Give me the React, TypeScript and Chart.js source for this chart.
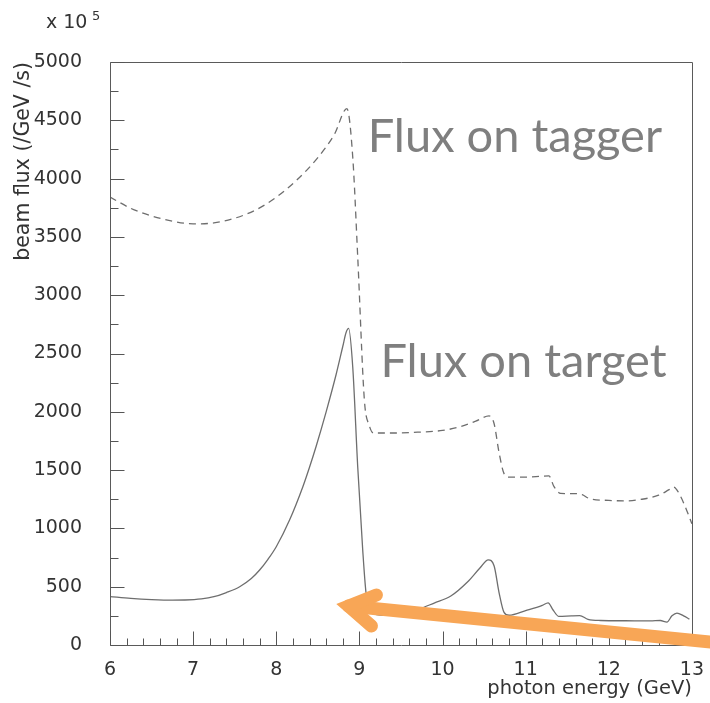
import React, { useEffect, useRef } from "react";
import { Chart, registerables } from "chart.js";
Chart.register(...registerables);

// ---- data (photon energy in GeV, flux in units of 10^5 /GeV /s) ----
const taggerEnergy = [6.0, 6.25, 6.5, 6.75, 7.0, 7.25, 7.5, 7.75, 8.0, 8.25, 8.5, 8.7, 8.85, 8.92, 8.98, 9.06, 9.12, 9.17, 9.4, 9.7, 10.0, 10.2, 10.4, 10.56, 10.62, 10.68, 10.74, 10.8, 11.0, 11.2, 11.28, 11.34, 11.42, 11.6, 11.68, 11.76, 12.0, 12.2, 12.4, 12.6, 12.72, 12.78, 12.86, 12.94, 13.0];
const taggerFlux = [3842, 3745, 3680, 3635, 3612, 3620, 3660, 3730, 3840, 3990, 4180, 4380, 4600, 4185, 3328, 2101, 1880, 1818, 1818, 1825, 1840, 1870, 1920, 1965, 1900, 1650, 1470, 1440, 1440, 1448, 1450, 1360, 1300, 1298, 1290, 1258, 1240, 1236, 1250, 1285, 1330, 1355, 1280, 1150, 1040];

const targetEnergy = [6.0, 6.25, 6.5, 6.75, 6.9, 7.1, 7.25, 7.4, 7.56, 7.7, 7.8, 7.9, 8.0, 8.16, 8.32, 8.4, 8.48, 8.6, 8.72, 8.8, 8.84, 8.87, 8.92, 8.98, 9.04, 9.08, 9.14, 9.3, 9.5, 9.7, 9.9, 10.1, 10.3, 10.45, 10.55, 10.62, 10.68, 10.74, 10.8, 11.0, 11.2, 11.27, 11.33, 11.4, 11.55, 11.65, 11.75, 11.9, 12.2, 12.5, 12.62, 12.7, 12.76, 12.82, 12.9, 12.97];
const targetFlux = [415, 400, 390, 385, 386, 395, 414, 450, 500, 570, 643, 735, 843, 1072, 1358, 1525, 1705, 2000, 2320, 2560, 2680, 2715, 2384, 1527, 815, 446, 275, 255, 275, 305, 360, 420, 540, 660, 730, 680, 450, 280, 255, 295, 340, 362, 300, 245, 250, 252, 220, 210, 208, 207, 210, 197, 250, 274, 250, 222];

const xMin = 6, xMax = 13, xMajorStep = 1, xMinorStep = 0.2;
const yMin = 0, yMax = 5000, yMajorStep = 500, yMinorStep = 250;

const xTitle = "photon energy (GeV)";
const yTitle = "beam flux (/GeV /s)";
const yExpBase = "x 10";
const yExpPower = "5";
const labelTagger = "Flux on tagger";
const labelTarget = "Flux on target";

// annotation anchors in data coordinates
const labelTaggerPos = [9.1, 4228];
const labelTargetPos = [9.253, 2298];
const arrowTail = [13.28, 21];
const arrowTip = [8.87, 334];
const arrowArmA = [9.205, 429];
const arrowArmB = [9.145, 163];

const AXIS_FONT = "'DejaVu Sans', sans-serif";

const overlay = {
  id: "overlay",
  afterDraw(chart: any) {
    const { ctx, chartArea: a, scales } = chart;
    const xs = scales.x, ys = scales.y;
    ctx.save();
    // frame
    ctx.strokeStyle = "#5a5a5a";
    ctx.lineWidth = 1;
    const L = Math.round(a.left) + 0.5, R = Math.round(a.right) + 0.5;
    const T = Math.round(a.top) + 0.5, B = Math.round(a.bottom) + 0.5;
    ctx.beginPath();
    ctx.moveTo(L, T); ctx.lineTo(R, T); ctx.lineTo(R, B); ctx.lineTo(L, B); ctx.closePath();
    ctx.stroke();
    // y ticks (inside)
    ctx.strokeStyle = "#555";
    const ny = Math.round((yMax - yMin) / yMinorStep);
    for (let i = 0; i <= ny; i++) {
      const v = yMin + i * yMinorStep;
      const major = Math.abs(v / yMajorStep - Math.round(v / yMajorStep)) < 1e-6;
      const py = Math.round(ys.getPixelForValue(v)) + 0.5;
      ctx.beginPath();
      ctx.moveTo(L, py); ctx.lineTo(L + (major ? 14 : 8), py);
      ctx.stroke();
    }
    // x ticks (inside)
    const nx = Math.round((xMax - xMin) / xMinorStep);
    for (let i = 0; i <= nx; i++) {
      const v = xMin + i * xMinorStep;
      const major = Math.abs(v / xMajorStep - Math.round(v / xMajorStep)) < 1e-6;
      const px = Math.round(xs.getPixelForValue(v)) + 0.5;
      ctx.beginPath();
      ctx.moveTo(px, B); ctx.lineTo(px, B - (major ? 14 : 7));
      ctx.stroke();
    }
    // axis titles
    ctx.fillStyle = "#333";
    ctx.font = `19.5px ${AXIS_FONT}`;
    ctx.textAlign = "right";
    ctx.textBaseline = "alphabetic";
    ctx.fillText(xTitle, a.right, chart.height - 9);
    ctx.save();
    ctx.translate(29, a.top);
    ctx.rotate(-Math.PI / 2);
    ctx.font = `20.5px ${AXIS_FONT}`;
    ctx.textAlign = "right";
    ctx.fillText(yTitle, 0, 0);
    ctx.restore();
    ctx.textAlign = "left";
    ctx.font = `19px ${AXIS_FONT}`;
    ctx.fillText(yExpBase, 46, 28);
    ctx.font = `13px ${AXIS_FONT}`;
    ctx.fillText(yExpPower, 92, 20);
    // big labels
    ctx.fillStyle = "#7f7f7f";
    ctx.font = "47px Lato, 'Open Sans', sans-serif";
    ctx.textAlign = "left";
    ctx.fillText(labelTagger, xs.getPixelForValue(labelTaggerPos[0]), ys.getPixelForValue(labelTaggerPos[1]), 297);
    ctx.fillText(labelTarget, xs.getPixelForValue(labelTargetPos[0]), ys.getPixelForValue(labelTargetPos[1]), 294);
    // arrow
    const P = (p: number[]) => [xs.getPixelForValue(p[0]), ys.getPixelForValue(p[1])];
    const tail = P(arrowTail), tip = P(arrowTip), armA = P(arrowArmA), armB = P(arrowArmB);
    ctx.strokeStyle = "#F8A656";
    ctx.lineWidth = 13;
    ctx.lineCap = "round";
    ctx.lineJoin = "miter";
    ctx.miterLimit = 10;
    ctx.beginPath();
    ctx.moveTo(tail[0], tail[1]); ctx.lineTo(tip[0], tip[1]);
    ctx.stroke();
    ctx.beginPath();
    ctx.moveTo(armA[0], armA[1]); ctx.lineTo(tip[0], tip[1]); ctx.lineTo(armB[0], armB[1]);
    ctx.stroke();
    ctx.restore();
  },
};

export default function App() {
  const ref = useRef<HTMLCanvasElement>(null);
  useEffect(() => {
    document.body.style.margin = "0";
    const canvas = ref.current!;
    const chart = new Chart(canvas, {
      type: "line",
      data: {
        datasets: [
          {
            label: "tagger",
            data: taggerEnergy.map((e, i) => ({ x: e, y: taggerFlux[i] })),
            borderColor: "#6e6e6e",
            borderWidth: 1.3,
            borderDash: [7, 5],
            pointRadius: 0,
            cubicInterpolationMode: "monotone",
            fill: false,
          },
          {
            label: "target",
            data: targetEnergy.map((e, i) => ({ x: e, y: targetFlux[i] })),
            borderColor: "#6e6e6e",
            borderWidth: 1.3,
            pointRadius: 0,
            cubicInterpolationMode: "monotone",
            fill: false,
          },
        ],
      },
      options: {
        animation: false,
        responsive: false,
        devicePixelRatio: 1,
        layout: { padding: { top: 62, right: 17, left: 0, bottom: 0 } },
        plugins: { legend: { display: false }, tooltip: { enabled: false } },
        scales: {
          x: {
            type: "linear",
            min: xMin,
            max: xMax,
            grid: { display: false },
            border: { display: false },
            ticks: { stepSize: xMajorStep, color: "#333", font: { family: AXIS_FONT, size: 19 }, padding: 6, maxRotation: 0, callback: (v: any) => String(v) },
            afterFit: (s: any) => { s.height = 58; },
          },
          y: {
            type: "linear",
            min: yMin,
            max: yMax,
            grid: { display: false },
            border: { display: false },
            ticks: { stepSize: yMajorStep, color: "#333", font: { family: AXIS_FONT, size: 19 }, padding: 20, callback: (v: any) => String(v) },
            afterFit: (s: any) => { s.width = 110; },
          },
        },
      },
      plugins: [overlay],
    });
    return () => chart.destroy();
  }, []);
  return (
    <div style={{ position: "relative", width: 710, height: 703 }}>
      <canvas ref={ref} width={710} height={703} style={{ display: "block" }} />
    </div>
  );
}
